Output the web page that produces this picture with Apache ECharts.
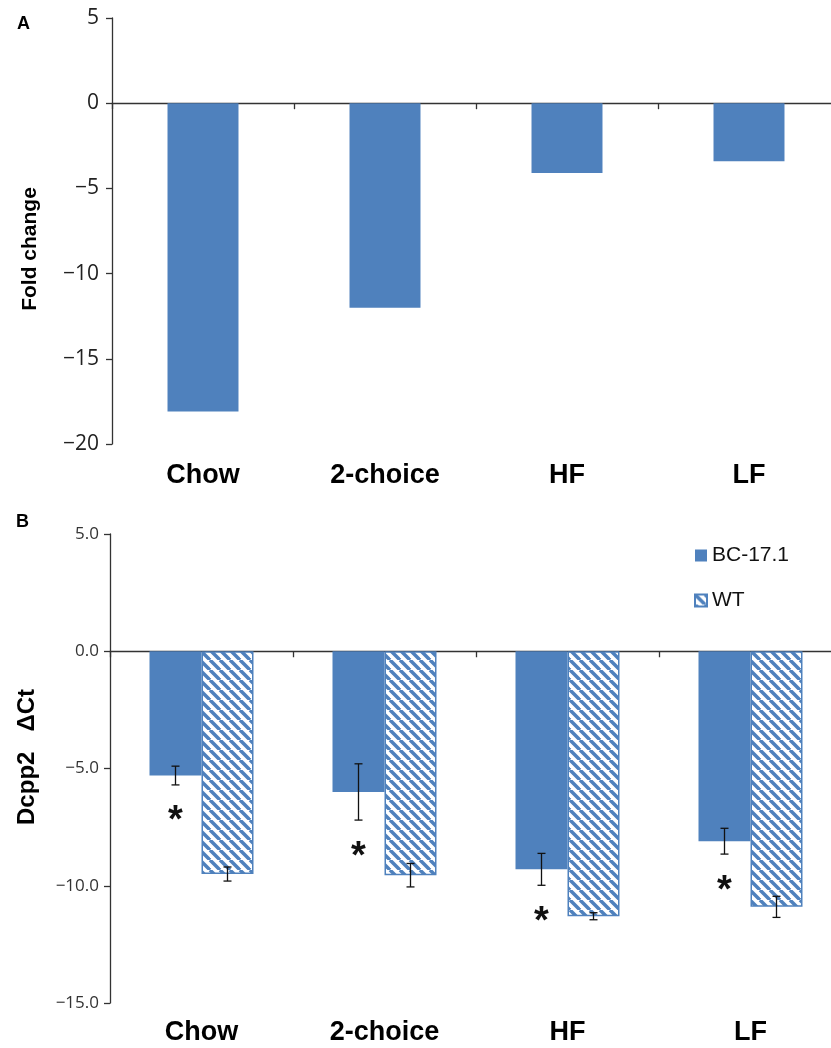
<!DOCTYPE html>
<html><head><meta charset="utf-8">
<script src="https://cdn.jsdelivr.net/npm/echarts@6/dist/echarts.min.js"></script>
<style>html,body{margin:0;padding:0;background:#fff}#c{width:831px;height:1048px}</style>
</head><body><div id="c"></div>
<script>
// ---- data ----
const categories = ['Chow', '2-choice', 'HF', 'LF'];
const foldChange = [-18.1, -12.0, -4.1, -3.4];
const foldAxis = { min: -20, max: 5, interval: 5 };
const bcValues = [-5.3, -6.0, -9.3, -8.1];
const bcErrors = [0.4, 1.2, 0.68, 0.55];
const wtValues = [-9.5, -9.55, -11.3, -10.9];
const wtErrors = [0.3, 0.5, 0.15, 0.45];
const significant = [true, true, true, true];
const seriesNames = ['BC-17.1', 'WT'];
const dctAxis = { min: -15, max: 5, interval: 5 };
const titleA = 'Fold change';
const titleB = 'Dcpp2   \u0394Ct';
const panelLabels = ['A', 'B'];

// ---- styling ----
const BLUE = '#4F81BD';
const AXIS = '#333';
const tickFont = '"Open Sans", "Noto Sans", sans-serif';
const boldFont = '"Liberation Sans", Arial, sans-serif';

function makeStripe() {
  const s = 10;
  const cv = document.createElement('canvas');
  cv.width = s; cv.height = s;
  const ctx = cv.getContext('2d');
  ctx.fillStyle = '#fff'; ctx.fillRect(0, 0, s, s);
  ctx.strokeStyle = BLUE; ctx.lineWidth = 3.5;
  for (const o of [-s, 0, s]) {
    ctx.beginPath(); ctx.moveTo(o, 0); ctx.lineTo(o + s, s); ctx.stroke();
  }
  return cv;
}
const stripe = { image: makeStripe(), repeat: 'repeat' };
const minus = v => String(v).replace('-', '\u2212');

const BAR_W = 52;
function errRender(offset, withStar) {
  return function (params, api) {
    const i = api.value(0), v = api.value(1), e = api.value(2), sig = api.value(3);
    const top = api.coord([i, v + e]);
    const bot = api.coord([i, v - e]);
    const x = top[0] + offset, cap = 4;
    const st = { stroke: '#111', lineWidth: 1.3 };
    const ch = [
      { type: 'line', shape: { x1: x, y1: top[1], x2: x, y2: bot[1] }, style: st },
      { type: 'line', shape: { x1: x - cap, y1: top[1], x2: x + cap, y2: top[1] }, style: st },
      { type: 'line', shape: { x1: x - cap, y1: bot[1], x2: x + cap, y2: bot[1] }, style: st }
    ];
    if (withStar && sig) {
      ch.push({ type: 'text', x: x, y: bot[1] + 37,
        style: { text: '*', font: 'bold 38px ' + boldFont, fill: '#111', align: 'center', verticalAlign: 'middle' } });
    }
    return { type: 'group', children: ch };
  };
}

const axisLineStyle = { color: AXIS, width: 1.3 };

const chart = echarts.init(document.getElementById('c'), null, { renderer: 'canvas' });
chart.setOption({
  animation: false,
  backgroundColor: '#fff',
  grid: [
    { left: 112, top: 18, width: 728, height: 426, outerBoundsMode: 'none', containLabel: false },
    { left: 110, top: 534, width: 732, height: 469, outerBoundsMode: 'none', containLabel: false }
  ],
  legend: {
    data: seriesNames, orient: 'vertical', left: 689, top: 540,
    itemWidth: 12, itemHeight: 12, itemGap: 24, icon: 'rect', selectedMode: false,
    textStyle: { fontSize: 21, fontFamily: boldFont, color: '#111' }
  },
  xAxis: [
    { gridIndex: 0, type: 'category', data: categories, axisLine: { onZero: true, lineStyle: axisLineStyle },
      axisTick: { show: true, length: 6, lineStyle: axisLineStyle }, axisLabel: { show: false } },
    { gridIndex: 0, type: 'category', data: categories, position: 'bottom', axisLine: { show: false, onZero: false },
      axisTick: { show: false }, axisLabel: { fontSize: 27, fontWeight: 'bold', fontFamily: boldFont, color: '#000', margin: 18 } },
    { gridIndex: 1, type: 'category', data: categories, axisLine: { onZero: true, lineStyle: axisLineStyle },
      axisTick: { show: true, length: 6, lineStyle: axisLineStyle }, axisLabel: { show: false } },
    { gridIndex: 1, type: 'category', data: categories, position: 'bottom', axisLine: { show: false, onZero: false },
      axisTick: { show: false }, axisLabel: { fontSize: 27, fontWeight: 'bold', fontFamily: boldFont, color: '#000', margin: 16 } }
  ],
  yAxis: [
    { gridIndex: 0, type: 'value', min: foldAxis.min, max: foldAxis.max, interval: foldAxis.interval,
      axisLine: { show: true, lineStyle: axisLineStyle }, axisTick: { show: true, length: 6, lineStyle: axisLineStyle },
      splitLine: { show: false },
      axisLabel: { fontSize: 21, fontFamily: tickFont, color: '#222', margin: 13, formatter: v => minus(v) } },
    { gridIndex: 1, type: 'value', min: dctAxis.min, max: dctAxis.max, interval: dctAxis.interval,
      axisLine: { show: true, lineStyle: axisLineStyle }, axisTick: { show: true, length: 6, lineStyle: axisLineStyle },
      splitLine: { show: false },
      axisLabel: { fontSize: 17, fontFamily: tickFont, color: '#333', margin: 11, formatter: v => minus(v.toFixed(1)) } }
  ],
  series: [
    { name: titleA, type: 'bar', xAxisIndex: 0, yAxisIndex: 0, data: foldChange, barCategoryGap: '61%',
      itemStyle: { color: BLUE } },
    { name: seriesNames[0], type: 'bar', xAxisIndex: 2, yAxisIndex: 1, data: bcValues, barWidth: BAR_W, barGap: '0%',
      itemStyle: { color: BLUE } },
    { name: seriesNames[1], type: 'bar', xAxisIndex: 2, yAxisIndex: 1, data: wtValues, barWidth: BAR_W, barGap: '0%',
      itemStyle: { color: stripe, borderColor: BLUE, borderWidth: 1.5 } },
    { type: 'custom', xAxisIndex: 2, yAxisIndex: 1, z: 5, encode: { x: 0, y: 1 }, clip: false,
      renderItem: errRender(-BAR_W / 2, true),
      data: bcValues.map((v, i) => [i, v, bcErrors[i], significant[i] ? 1 : 0]) },
    { type: 'custom', xAxisIndex: 2, yAxisIndex: 1, z: 5, encode: { x: 0, y: 1 }, clip: false,
      renderItem: errRender(BAR_W / 2, false),
      data: wtValues.map((v, i) => [i, v, wtErrors[i], 0]) }
  ],
  graphic: [
    { type: 'text', x: 17, y: 15, style: { text: panelLabels[0], font: 'bold 18px ' + boldFont, fill: '#000' } },
    { type: 'text', x: 16, y: 513, style: { text: panelLabels[1], font: 'bold 18px ' + boldFont, fill: '#000' } },
    { type: 'text', x: 30, y: 249, rotation: Math.PI / 2,
      style: { text: titleA, font: 'bold 21px ' + boldFont, fill: '#000', align: 'center', verticalAlign: 'middle' } },
    { type: 'text', x: 27, y: 757, rotation: Math.PI / 2,
      style: { text: titleB, font: 'bold 24px ' + boldFont, fill: '#000', align: 'center', verticalAlign: 'middle' } }
  ]
});
</script>
</body></html>
